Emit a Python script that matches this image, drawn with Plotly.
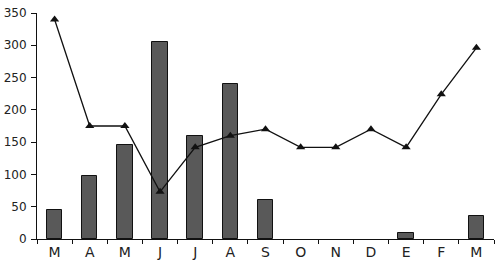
import plotly.graph_objects as go

months = ["M", "A", "M", "J", "J", "A", "S", "O", "N", "D", "E", "F", "M"]
bar_values = [45, 97, 145, 305, 160, 240, 60, 0, 0, 0, 10, 0, 35]
line_values = [340, 175, 175, 73, 142, 160, 170, 142, 142, 170, 142, 224, 296]

x = list(range(len(months)))

fig = go.Figure()
fig.add_trace(go.Bar(
    x=x, y=bar_values, width=0.44,
    marker=dict(color="#595959",
                line=dict(color="#111111", width=[1 if v > 0 else 0 for v in bar_values])),
    showlegend=False,
))
fig.add_trace(go.Scatter(
    x=x, y=line_values, mode="lines+markers",
    line=dict(color="#111111", width=1.3),
    marker=dict(symbol="triangle-up", size=8, color="#111111"),
    showlegend=False,
))

fig.update_layout(
    width=500, height=269,
    margin=dict(l=37, r=6, t=13, b=30),
    plot_bgcolor="white", paper_bgcolor="white",
    font=dict(family="DejaVu Sans, sans-serif", size=12, color="#222222"),
    bargap=0,
)
fig.update_xaxes(
    range=[-0.5, len(months) - 0.5], automargin=False,
    tickmode="array", tickvals=x, ticktext=months,
    tickfont=dict(size=14),
    ticks="", showgrid=False, zeroline=False,
    showline=True, linecolor="#111111", linewidth=1,
    minor=dict(tickmode="array", tickvals=[i - 0.5 for i in range(len(months) + 1)],
               ticks="outside", ticklen=4, tickcolor="#111111", showgrid=False),
)
fig.update_yaxes(
    range=[0, 350], dtick=50, tick0=0, automargin=False,
    tickfont=dict(size=12),
    ticks="outside", ticklen=5, tickcolor="#111111", ticklabelstandoff=2,
    showgrid=False, zeroline=False,
    showline=True, linecolor="#111111", linewidth=1,
)

fig.write_html("out.html", config={"displayModeBar": False},
               post_script="document.body.style.margin='0';")
